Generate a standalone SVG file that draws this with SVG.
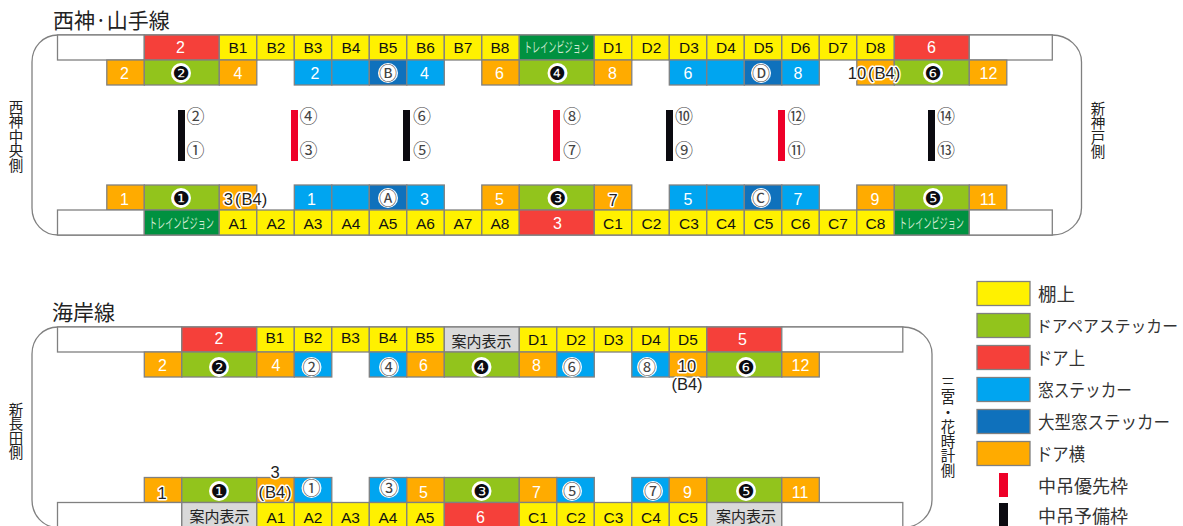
<svg xmlns="http://www.w3.org/2000/svg" width="1183" height="526" viewBox="0 0 1183 526">
<style>
text{font-family:"Liberation Sans","Noto Sans CJK JP",sans-serif}
.shell{fill:none;stroke:#808080;stroke-width:1.3}
.cell rect{stroke:#808080;stroke-width:1.3;height:25px}
.e{fill:#fff}.y{fill:#fff100}.g{fill:#92c41c}.r{fill:#f5403a}.b{fill:#00a5f0}.d{fill:#0f71bc}.o{fill:#ffab00}.t{fill:#009140}.s{fill:#d9d9d9}
.k{font-size:15.500px;fill:#111;text-anchor:middle}
.w{font-size:16px;fill:#fff;text-anchor:middle}
.h{font-size:16.500px;fill:#222;text-anchor:middle;stroke:#fff;stroke-width:3px;paint-order:stroke;stroke-linejoin:round}
.j{font-family:"Noto Sans CJK JP",sans-serif;text-anchor:middle;font-size:15px;fill:#222}
.tv{font-family:"Noto Sans CJK JP",sans-serif;font-size:14px;fill:#cfe8d0}
.n{font-family:"DejaVu Sans",sans-serif;font-size:19px;fill:#0b0b10;text-anchor:middle;transform:translateY(.5px)}
.m{font-family:"Noto Sans CJK JP",sans-serif;font-size:18px;fill:#444;text-anchor:middle;transform:translateY(1px)}
.halo{fill:#fff}
.v{font-family:"Noto Sans CJK JP",sans-serif;font-size:14.500px;fill:#222;writing-mode:vertical-rl}
.title{font-family:"Noto Sans CJK JP",sans-serif;font-size:21px;fill:#222}
.lg{font-family:"Noto Sans CJK JP",sans-serif;font-size:18px;fill:#333}
.pri{fill:#ee0028}.spa{fill:#0b0a10}
</style>

<g id="line-seishin">
<text class="title" x="53" y="28">西神·山手線</text>
<path class="shell" d="M58 35C43 35 32 47 32 62V208C32 223 43 235 58 235H1052C1068 235 1081.500 223 1081.500 208V62C1081.500 47 1068 35 1052 35Z"/>
<text class="v" x="16" y="100">西神中央側</text>
<text class="v" x="1098" y="101">新神戸側</text>
<g id="top-row1" class="cell">
<rect class="e" x="57.500" y="35" width="86.800"/>
<rect class="r" x="144.300" y="35" width="75"/>
<rect class="y" x="219.300" y="35" width="37.500"/>
<rect class="y" x="256.800" y="35" width="37.500"/>
<rect class="y" x="294.300" y="35" width="37.500"/>
<rect class="y" x="331.800" y="35" width="37.500"/>
<rect class="y" x="369.300" y="35" width="37.500"/>
<rect class="y" x="406.800" y="35" width="37.500"/>
<rect class="y" x="444.300" y="35" width="37.500"/>
<rect class="y" x="481.800" y="35" width="37.500"/>
<rect class="t" x="519.300" y="35" width="75"/>
<rect class="y" x="594.300" y="35" width="37.500"/>
<rect class="y" x="631.800" y="35" width="37.500"/>
<rect class="y" x="669.300" y="35" width="37.500"/>
<rect class="y" x="706.800" y="35" width="37.500"/>
<rect class="y" x="744.300" y="35" width="37.500"/>
<rect class="y" x="781.800" y="35" width="37.500"/>
<rect class="y" x="819.300" y="35" width="37.500"/>
<rect class="y" x="856.800" y="35" width="37.500"/>
<rect class="r" x="894.300" y="35" width="75"/>
<rect class="e" x="969.300" y="35" width="83"/>
<text class="w" x="180.500" y="53">2</text>
<text class="k" x="238" y="53">B1</text><text class="k" x="276" y="53">B2</text><text class="k" x="313" y="53">B3</text><text class="k" x="351" y="53">B4</text><text class="k" x="388" y="53">B5</text><text class="k" x="425.500" y="53">B6</text><text class="k" x="463" y="53">B7</text><text class="k" x="500" y="53">B8</text>
<text class="tv" transform="translate(524 52) scale(.58 1)">トレインビジョン</text>
<text class="k" x="613" y="53">D1</text><text class="k" x="651.500" y="53">D2</text><text class="k" x="689" y="53">D3</text><text class="k" x="726" y="53">D4</text><text class="k" x="763.500" y="53">D5</text><text class="k" x="800.500" y="53">D6</text><text class="k" x="838" y="53">D7</text><text class="k" x="875.500" y="53">D8</text>
<text class="w" x="931.500" y="53">6</text>
</g>
<g id="top-row2" class="cell">
<rect class="o" x="106.800" y="60" width="37.500"/>
<rect class="g" x="144.300" y="60" width="75"/>
<rect class="o" x="219.300" y="60" width="37.500"/>
<rect class="b" x="294.300" y="60" width="37.500"/>
<rect class="b" x="331.800" y="60" width="37.500"/>
<rect class="d" x="369.300" y="60" width="37.500"/>
<rect class="b" x="406.800" y="60" width="37.500"/>
<rect class="o" x="481.800" y="60" width="37.500"/>
<rect class="g" x="519.300" y="60" width="75"/>
<rect class="o" x="594.300" y="60" width="37.500"/>
<rect class="b" x="669.300" y="60" width="37.500"/>
<rect class="b" x="706.800" y="60" width="37.500"/>
<rect class="d" x="744.300" y="60" width="37.500"/>
<rect class="b" x="781.800" y="60" width="37.500"/>
<rect class="o" x="856.800" y="60" width="37.500"/>
<rect class="g" x="894.300" y="60" width="75"/>
<rect class="o" x="969.300" y="60" width="37.500"/>
<text class="w" x="124.500" y="79">2</text><text class="w" x="238" y="79">4</text><text class="w" x="315" y="79">2</text><text class="w" x="424.500" y="79">4</text><text class="w" x="499.500" y="79">6</text><text class="w" x="612.500" y="79">8</text><text class="w" x="688" y="79">6</text><text class="w" x="798" y="79">8</text><text class="w" x="988.500" y="79">12</text>
</g>
<g id="top-row3" class="cell">
<rect class="o" x="106.800" y="185" width="37.500"/>
<rect class="g" x="144.300" y="185" width="75"/>
<rect class="o" x="219.300" y="185" width="37.500"/>
<rect class="b" x="294.300" y="185" width="37.500"/>
<rect class="b" x="331.800" y="185" width="37.500"/>
<rect class="d" x="369.300" y="185" width="37.500"/>
<rect class="b" x="406.800" y="185" width="37.500"/>
<rect class="o" x="481.800" y="185" width="37.500"/>
<rect class="g" x="519.300" y="185" width="75"/>
<rect class="o" x="594.300" y="185" width="37.500"/>
<rect class="b" x="669.300" y="185" width="37.500"/>
<rect class="b" x="706.800" y="185" width="37.500"/>
<rect class="d" x="744.300" y="185" width="37.500"/>
<rect class="b" x="781.800" y="185" width="37.500"/>
<rect class="o" x="856.800" y="185" width="37.500"/>
<rect class="g" x="894.300" y="185" width="75"/>
<rect class="o" x="969.300" y="185" width="37.500"/>
<text class="w" x="124.500" y="205">1</text><text class="w" x="311.500" y="205">1</text><text class="w" x="424.500" y="205">3</text><text class="w" x="499.500" y="205">5</text><text class="w" x="688" y="205">5</text><text class="w" x="798" y="205">7</text><text class="w" x="875" y="205">9</text><text class="w" x="988" y="205">11</text>
<text class="h" x="613" y="205.500">7</text>
<text class="h" x="245.500" y="205">3<tspan dx="2">(</tspan><tspan dx="1">B4)</tspan></text>
<text class="h" x="874" y="79">10<tspan dx="2">(</tspan><tspan dx="1">B4)</tspan></text>
</g>
<g id="top-row4" class="cell">
<rect class="e" x="57.500" y="210" width="86.800"/>
<rect class="t" x="144.300" y="210" width="75"/>
<rect class="y" x="219.300" y="210" width="37.500"/>
<rect class="y" x="256.800" y="210" width="37.500"/>
<rect class="y" x="294.300" y="210" width="37.500"/>
<rect class="y" x="331.800" y="210" width="37.500"/>
<rect class="y" x="369.300" y="210" width="37.500"/>
<rect class="y" x="406.800" y="210" width="37.500"/>
<rect class="y" x="444.300" y="210" width="37.500"/>
<rect class="y" x="481.800" y="210" width="37.500"/>
<rect class="r" x="519.300" y="210" width="75"/>
<rect class="y" x="594.300" y="210" width="37.500"/>
<rect class="y" x="631.800" y="210" width="37.500"/>
<rect class="y" x="669.300" y="210" width="37.500"/>
<rect class="y" x="706.800" y="210" width="37.500"/>
<rect class="y" x="744.300" y="210" width="37.500"/>
<rect class="y" x="781.800" y="210" width="37.500"/>
<rect class="y" x="819.300" y="210" width="37.500"/>
<rect class="y" x="856.800" y="210" width="37.500"/>
<rect class="t" x="894.300" y="210" width="75"/>
<rect class="e" x="969.300" y="210" width="83"/>
<text class="tv" transform="translate(149 228) scale(.58 1)">トレインビジョン</text>
<text class="k" x="238" y="228.500">A1</text><text class="k" x="276" y="228.500">A2</text><text class="k" x="313" y="228.500">A3</text><text class="k" x="351" y="228.500">A4</text><text class="k" x="388" y="228.500">A5</text><text class="k" x="425.500" y="228.500">A6</text><text class="k" x="463" y="228.500">A7</text><text class="k" x="500" y="228.500">A8</text>
<text class="w" x="557.500" y="229">3</text>
<text class="k" x="613" y="228.500">C1</text><text class="k" x="651.500" y="228.500">C2</text><text class="k" x="689" y="228.500">C3</text><text class="k" x="726" y="228.500">C4</text><text class="k" x="763.500" y="228.500">C5</text><text class="k" x="800.500" y="228.500">C6</text><text class="k" x="838" y="228.500">C7</text><text class="k" x="875.500" y="228.500">C8</text>
<text class="tv" transform="translate(899 228) scale(.58 1)">トレインビジョン</text>
</g>
<g id="top-doors">
<circle class="halo" cx="181" cy="73" r="10"/><text class="n" x="181" y="79">❷</text>
<circle class="halo" cx="557.500" cy="73" r="10"/><text class="n" x="557.500" y="79">❹</text>
<circle class="halo" cx="933" cy="73" r="10"/><text class="n" x="933" y="79">❻</text>
<circle class="halo" cx="181" cy="198" r="10"/><text class="n" x="181" y="204">❶</text>
<circle class="halo" cx="557.500" cy="198" r="10"/><text class="n" x="557.500" y="204">❸</text>
<circle class="halo" cx="933" cy="198" r="10"/><text class="n" x="933" y="204">❺</text>
<circle class="halo" cx="388" cy="73" r="10"/><text class="m" x="388" y="78.500">Ⓑ</text>
<circle class="halo" cx="761" cy="73" r="10"/><text class="m" x="761" y="78.500">Ⓓ</text>
<circle class="halo" cx="388" cy="198" r="10"/><text class="m" x="388" y="203.500">Ⓐ</text>
<circle class="halo" cx="761" cy="198" r="10"/><text class="m" x="761" y="203.500">Ⓒ</text>
</g>
<g id="top-straps">
<rect class="spa" x="178" y="110" width="7" height="51"/>
<rect class="pri" x="291" y="110" width="7" height="51"/>
<rect class="spa" x="403" y="110" width="7" height="51"/>
<rect class="pri" x="553" y="110" width="7" height="51"/>
<rect class="spa" x="666" y="110" width="7" height="51"/>
<rect class="pri" x="778" y="110" width="7" height="51"/>
<rect class="spa" x="928" y="110" width="7" height="51"/>
<text class="m" x="195.500" y="122">②</text><text class="m" x="195.500" y="156">①</text>
<text class="m" x="308.500" y="122">④</text><text class="m" x="308.500" y="156">③</text>
<text class="m" x="422" y="122">⑥</text><text class="m" x="422" y="156">⑤</text>
<text class="m" x="572" y="122">⑧</text><text class="m" x="572" y="156">⑦</text>
<text class="m" x="684" y="122">⑩</text><text class="m" x="684" y="156">⑨</text>
<text class="m" x="796.500" y="122">⑫</text><text class="m" x="796.500" y="156">⑪</text>
<text class="m" x="946" y="122">⑭</text><text class="m" x="946" y="156">⑬</text>
</g>
</g>

<g id="line-kaigan">
<text class="title" x="52" y="320">海岸線</text>
<path class="shell" d="M58 327C43 327 32 339 32 354V500C32 515 43 527.500 58 527.500H903C919 527.500 932 515 932 500V354C932 339 919 327 903 327Z"/>
<text class="v" x="16" y="402">新長田側</text>
<text class="v" x="948" y="376">三宮・花時計側</text>
<g id="sea-row1" class="cell">
<rect class="e" x="57.500" y="327" width="124.300"/>
<rect class="r" x="181.800" y="327" width="75"/>
<rect class="y" x="256.800" y="327" width="37.500"/>
<rect class="y" x="294.300" y="327" width="37.500"/>
<rect class="y" x="331.800" y="327" width="37.500"/>
<rect class="y" x="369.300" y="327" width="37.500"/>
<rect class="y" x="406.800" y="327" width="37.500"/>
<rect class="s" x="444.300" y="327" width="75"/>
<rect class="y" x="519.300" y="327" width="37.500"/>
<rect class="y" x="556.800" y="327" width="37.500"/>
<rect class="y" x="594.300" y="327" width="37.500"/>
<rect class="y" x="631.800" y="327" width="37.500"/>
<rect class="y" x="669.300" y="327" width="37.500"/>
<rect class="r" x="706.800" y="327" width="75"/>
<rect class="e" x="781.800" y="327" width="121"/>
<text class="w" x="219" y="344">2</text>
<text class="k" x="275" y="343">B1</text><text class="k" x="313" y="343">B2</text><text class="k" x="350.500" y="343">B3</text><text class="k" x="388" y="343">B4</text><text class="k" x="425" y="343">B5</text>
<text class="j" x="481.500" y="347">案内表示</text>
<text class="k" x="538" y="345">D1</text><text class="k" x="576" y="345">D2</text><text class="k" x="613.500" y="345">D3</text><text class="k" x="651" y="345">D4</text><text class="k" x="688" y="345">D5</text>
<text class="w" x="742.500" y="345">5</text>
</g>
<g id="sea-row2" class="cell">
<rect class="o" x="144.300" y="352" width="37.500"/>
<rect class="g" x="181.800" y="352" width="75"/>
<rect class="o" x="256.800" y="352" width="37.500"/>
<rect class="b" x="294.300" y="352" width="37.500"/>
<rect class="b" x="369.300" y="352" width="37.500"/>
<rect class="o" x="406.800" y="352" width="37.500"/>
<rect class="g" x="444.300" y="352" width="75"/>
<rect class="o" x="519.300" y="352" width="37.500"/>
<rect class="b" x="556.800" y="352" width="37.500"/>
<rect class="b" x="631.800" y="352" width="37.500"/>
<rect class="o" x="669.300" y="352" width="37.500"/>
<rect class="g" x="706.800" y="352" width="75"/>
<rect class="o" x="781.800" y="352" width="37.500"/>
<text class="w" x="162.500" y="371">2</text><text class="w" x="276" y="371">4</text><text class="w" x="423.500" y="371">6</text><text class="w" x="536.500" y="371">8</text><text class="w" x="800.500" y="371">12</text>
<text class="h" x="687" y="371.500">10</text>
<text class="h" x="687" y="390">(B4)</text>
</g>
<g id="sea-row3" class="cell">
<rect class="o" x="144.300" y="477.500" width="37.500"/>
<rect class="g" x="181.800" y="477.500" width="75"/>
<rect class="o" x="256.800" y="477.500" width="37.500"/>
<rect class="b" x="294.300" y="477.500" width="37.500"/>
<rect class="b" x="369.300" y="477.500" width="37.500"/>
<rect class="o" x="406.800" y="477.500" width="37.500"/>
<rect class="g" x="444.300" y="477.500" width="75"/>
<rect class="o" x="519.300" y="477.500" width="37.500"/>
<rect class="b" x="556.800" y="477.500" width="37.500"/>
<rect class="b" x="631.800" y="477.500" width="37.500"/>
<rect class="o" x="669.300" y="477.500" width="37.500"/>
<rect class="g" x="706.800" y="477.500" width="75"/>
<rect class="o" x="781.800" y="477.500" width="37.500"/>
<text class="w" x="423.500" y="498">5</text><text class="w" x="536.500" y="498">7</text><text class="w" x="687.500" y="498">9</text><text class="w" x="800" y="498">11</text>
<text class="h" x="162" y="498.500">1</text>
<text class="h" x="275" y="478">3</text>
<text class="h" x="275" y="497.500">(<tspan dx="1">B4</tspan><tspan dx="1">)</tspan></text>
</g>
<g id="sea-row4" class="cell">
<rect class="e" x="57.500" y="502.500" width="124.300"/>
<rect class="s" x="181.800" y="502.500" width="75"/>
<rect class="y" x="256.800" y="502.500" width="37.500"/>
<rect class="y" x="294.300" y="502.500" width="37.500"/>
<rect class="y" x="331.800" y="502.500" width="37.500"/>
<rect class="y" x="369.300" y="502.500" width="37.500"/>
<rect class="y" x="406.800" y="502.500" width="37.500"/>
<rect class="r" x="444.300" y="502.500" width="75"/>
<rect class="y" x="519.300" y="502.500" width="37.500"/>
<rect class="y" x="556.800" y="502.500" width="37.500"/>
<rect class="y" x="594.300" y="502.500" width="37.500"/>
<rect class="y" x="631.800" y="502.500" width="37.500"/>
<rect class="y" x="669.300" y="502.500" width="37.500"/>
<rect class="s" x="706.800" y="502.500" width="75"/>
<rect class="e" x="781.800" y="502.500" width="121"/>
<text class="j" x="219.500" y="522">案内表示</text>
<text class="k" x="276" y="523">A1</text><text class="k" x="313" y="523">A2</text><text class="k" x="350.500" y="523">A3</text><text class="k" x="388" y="523">A4</text><text class="k" x="425" y="523">A5</text>
<text class="w" x="480.500" y="523">6</text>
<text class="k" x="538" y="523">C1</text><text class="k" x="576" y="523">C2</text><text class="k" x="613.500" y="523">C3</text><text class="k" x="651" y="523">C4</text><text class="k" x="688" y="523">C5</text>
<text class="j" x="746" y="522">案内表示</text>
</g>
<g id="sea-doors">
<circle class="halo" cx="219" cy="367" r="10"/><text class="n" x="219" y="373">❷</text>
<circle class="halo" cx="481.500" cy="367" r="10"/><text class="n" x="481.500" y="373">❹</text>
<circle class="halo" cx="746" cy="367" r="10"/><text class="n" x="746" y="373">❻</text>
<circle class="halo" cx="219" cy="491" r="10"/><text class="n" x="219" y="497">❶</text>
<circle class="halo" cx="481.500" cy="491" r="10"/><text class="n" x="481.500" y="497">❸</text>
<circle class="halo" cx="746" cy="491" r="10"/><text class="n" x="746" y="497">❺</text>
<circle class="halo" cx="311.500" cy="367" r="10"/><text class="m" x="311.500" y="372.500">②</text>
<circle class="halo" cx="389" cy="367" r="10"/><text class="m" x="389" y="372.500">④</text>
<circle class="halo" cx="572" cy="367" r="10"/><text class="m" x="572" y="372.500">⑥</text>
<circle class="halo" cx="647" cy="367" r="10"/><text class="m" x="647" y="372.500">⑧</text>
<circle class="halo" cx="311.500" cy="488" r="10"/><text class="m" x="311.500" y="493.500">①</text>
<circle class="halo" cx="389" cy="488" r="10"/><text class="m" x="389" y="493.500">③</text>
<circle class="halo" cx="572" cy="491" r="10"/><text class="m" x="572" y="496.500">⑤</text>
<circle class="halo" cx="653" cy="491" r="10"/><text class="m" x="653" y="496.500">⑦</text>
</g>
</g>

<g id="legend" class="cell">
<rect class="y" x="977" y="281.500" width="53" style="height:24px"/><text class="lg" x="1038" y="300.500" textLength="37" lengthAdjust="spacingAndGlyphs">棚上</text>
<rect class="g" x="977" y="313.500" width="53" style="height:24px"/><text class="lg" style="font-size:16.300px" x="1036" y="332" textLength="142" lengthAdjust="spacingAndGlyphs">ドアペアステッカー</text>
<rect class="r" x="977" y="345.500" width="53" style="height:24px"/><text class="lg" x="1036" y="364.500" textLength="49" lengthAdjust="spacingAndGlyphs">ドア上</text>
<rect class="b" x="977" y="377.500" width="53" style="height:24px"/><text class="lg" x="1038" y="396.500" textLength="94" lengthAdjust="spacingAndGlyphs">窓ステッカー</text>
<rect class="d" x="977" y="409.500" width="53" style="height:24px"/><text class="lg" x="1038" y="428.500" textLength="132" lengthAdjust="spacingAndGlyphs">大型窓ステッカー</text>
<rect class="o" x="977" y="441.500" width="53" style="height:24px"/><text class="lg" x="1036" y="460.500" textLength="49" lengthAdjust="spacingAndGlyphs">ドア横</text>
</g>
<g id="legend-straps">
<rect class="pri" x="999" y="473" width="9" height="24"/><text class="lg" x="1038" y="492.500">中吊優先枠</text>
<rect class="spa" x="999" y="503" width="9" height="23"/><text class="lg" x="1038" y="523">中吊予備枠</text>
</g>
</svg>
